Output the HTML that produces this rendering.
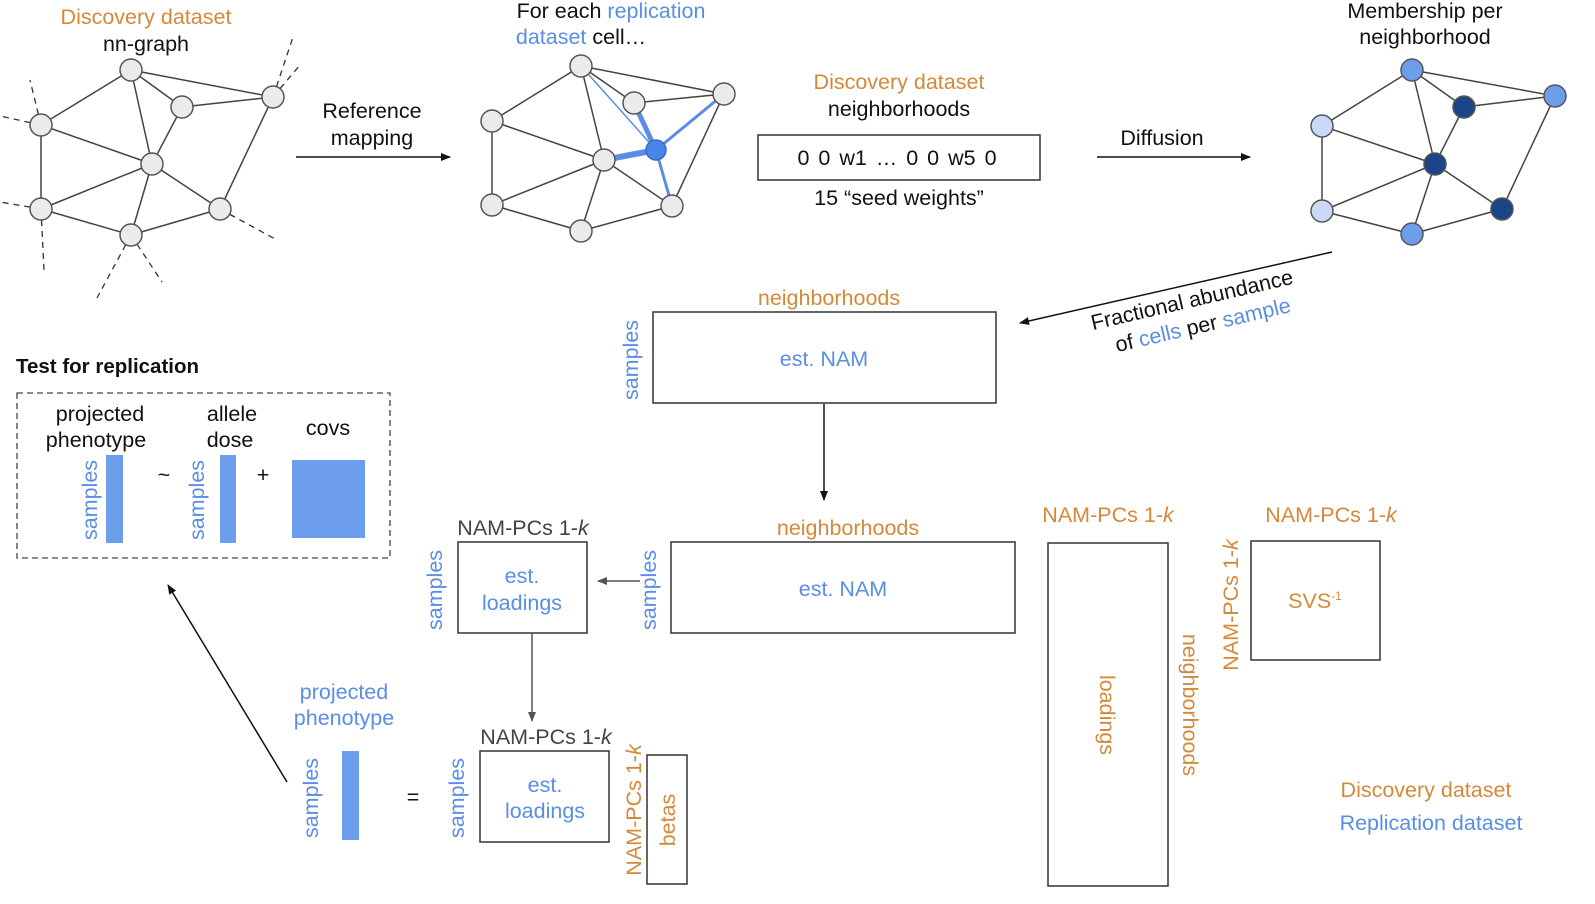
<!DOCTYPE html>
<html><head><meta charset="utf-8"><style>
body{margin:0;background:#fff}
svg{display:block}
text{font-family:"Liberation Sans",Arial,sans-serif;font-size:21.5px;text-anchor:middle;fill:#111}
.o{fill:#d4893a}.b{fill:#5a8ee6}.g{fill:#444}
</style></head><body>
<svg width="1595" height="904" viewBox="0 0 1595 904" xmlns="http://www.w3.org/2000/svg">
<defs><marker id="ar" markerWidth="10" markerHeight="8" refX="9" refY="4" orient="auto" markerUnits="userSpaceOnUse"><path d="M0,0 L10,4 L0,8 z" fill="#111"/></marker>
<marker id="ag" markerWidth="10" markerHeight="8" refX="9" refY="4" orient="auto" markerUnits="userSpaceOnUse"><path d="M0,0 L10,4 L0,8 z" fill="#555"/></marker></defs>

<!-- graph 1 -->
<g stroke="#333" stroke-width="1.3" stroke-dasharray="6,5">
<line x1="273" y1="97" x2="293" y2="37"/><line x1="273" y1="97" x2="300" y2="65"/>
<line x1="41" y1="125" x2="30" y2="80"/><line x1="41" y1="125" x2="0" y2="116"/>
<line x1="41" y1="209" x2="0" y2="202"/><line x1="41" y1="209" x2="44" y2="270"/>
<line x1="131" y1="235" x2="97" y2="298"/><line x1="131" y1="235" x2="162" y2="282"/>
<line x1="220" y1="209" x2="277" y2="240"/></g>
<g stroke="#444" stroke-width="1.5">
<line x1="131" y1="70" x2="273" y2="97"/><line x1="131" y1="70" x2="182" y2="107"/><line x1="131" y1="70" x2="41" y2="125"/><line x1="131" y1="70" x2="152" y2="164"/>
<line x1="182" y1="107" x2="273" y2="97"/><line x1="182" y1="107" x2="152" y2="164"/><line x1="41" y1="125" x2="152" y2="164"/><line x1="41" y1="125" x2="41" y2="209"/>
<line x1="41" y1="209" x2="152" y2="164"/><line x1="41" y1="209" x2="131" y2="235"/><line x1="131" y1="235" x2="152" y2="164"/><line x1="131" y1="235" x2="220" y2="209"/>
<line x1="152" y1="164" x2="220" y2="209"/><line x1="220" y1="209" x2="273" y2="97"/></g>
<g fill="#ebebeb" stroke="#555" stroke-width="1.5">
<circle cx="131" cy="70" r="11"/><circle cx="182" cy="107" r="11"/><circle cx="273" cy="97" r="11"/><circle cx="41" cy="125" r="11"/><circle cx="152" cy="164" r="11"/><circle cx="41" cy="209" r="11"/><circle cx="220" cy="209" r="11"/><circle cx="131" cy="235" r="11"/></g>
<text x="146" y="24" class="o">Discovery dataset</text><text x="146" y="51">nn-graph</text>

<!-- graph 2 -->
<g stroke="#444" stroke-width="1.5">
<line x1="581" y1="66" x2="724" y2="94"/><line x1="581" y1="66" x2="634" y2="103"/><line x1="581" y1="66" x2="492" y2="121"/><line x1="581" y1="66" x2="604" y2="160"/>
<line x1="634" y1="103" x2="724" y2="94"/><line x1="492" y1="121" x2="604" y2="160"/><line x1="492" y1="121" x2="492" y2="205"/>
<line x1="492" y1="205" x2="604" y2="160"/><line x1="492" y1="205" x2="581" y2="231"/><line x1="581" y1="231" x2="604" y2="160"/><line x1="581" y1="231" x2="672" y2="206"/>
<line x1="604" y1="160" x2="672" y2="206"/><line x1="672" y1="206" x2="724" y2="94"/></g>
<g stroke="#5a8ee6">
<line x1="581" y1="66" x2="656" y2="150" stroke-width="1.5"/><line x1="634" y1="103" x2="656" y2="150" stroke-width="5"/><line x1="604" y1="160" x2="656" y2="150" stroke-width="6"/>
<line x1="724" y1="94" x2="656" y2="150" stroke-width="3"/><line x1="672" y1="206" x2="656" y2="150" stroke-width="3"/></g>
<g fill="#ebebeb" stroke="#555" stroke-width="1.5">
<circle cx="581" cy="66" r="11"/><circle cx="634" cy="103" r="11"/><circle cx="724" cy="94" r="11"/><circle cx="492" cy="121" r="11"/><circle cx="604" cy="160" r="11"/><circle cx="492" cy="205" r="11"/><circle cx="672" cy="206" r="11"/><circle cx="581" cy="231" r="11"/></g>
<circle cx="656" cy="150" r="10" fill="#4a86e8" stroke="#3a6bc0" stroke-width="1.5"/>
<text x="611" y="18">For each <tspan class="b">replication</tspan></text><text x="581" y="44"><tspan class="b">dataset</tspan> cell…</text>

<!-- graph 3 -->
<g stroke="#444" stroke-width="1.5">
<line x1="1412" y1="70" x2="1555" y2="96"/><line x1="1412" y1="70" x2="1464" y2="107"/><line x1="1412" y1="70" x2="1322" y2="126"/><line x1="1412" y1="70" x2="1435" y2="164"/>
<line x1="1464" y1="107" x2="1555" y2="96"/><line x1="1464" y1="107" x2="1435" y2="164"/><line x1="1322" y1="126" x2="1435" y2="164"/><line x1="1322" y1="126" x2="1322" y2="211"/>
<line x1="1322" y1="211" x2="1435" y2="164"/><line x1="1322" y1="211" x2="1412" y2="234"/><line x1="1412" y1="234" x2="1435" y2="164"/><line x1="1412" y1="234" x2="1502" y2="209"/>
<line x1="1435" y1="164" x2="1502" y2="209"/><line x1="1502" y1="209" x2="1555" y2="96"/></g>
<g stroke="#555" stroke-width="1.5">
<circle cx="1412" cy="70" r="11" fill="#6d9eeb"/><circle cx="1555" cy="96" r="11" fill="#6d9eeb"/><circle cx="1412" cy="234" r="11" fill="#6d9eeb"/>
<circle cx="1322" cy="126" r="11" fill="#c9daf8"/><circle cx="1322" cy="211" r="11" fill="#c9daf8"/>
<circle cx="1464" cy="107" r="11" fill="#1c4587"/><circle cx="1435" cy="164" r="11" fill="#1c4587"/><circle cx="1502" cy="209" r="11" fill="#1c4587"/></g>
<text x="1425" y="18">Membership per</text><text x="1425" y="44">neighborhood</text>

<!-- top middle -->
<text x="372" y="118">Reference</text><text x="372" y="145">mapping</text>
<line x1="296" y1="157" x2="450" y2="157" stroke="#111" stroke-width="1.5" marker-end="url(#ar)"/>
<text x="899" y="89" class="o">Discovery dataset</text><text x="899" y="116">neighborhoods</text>
<rect x="758" y="135" width="282" height="45" fill="none" stroke="#333" stroke-width="1.5"/>
<text x="897" y="165" style="word-spacing:3px">0  0  w1  …  0  0   w5  0</text>
<text x="899" y="205">15 “seed weights”</text>
<text x="1162" y="145">Diffusion</text>
<line x1="1097" y1="157" x2="1250" y2="157" stroke="#111" stroke-width="1.5" marker-end="url(#ar)"/>

<line x1="1332" y1="252" x2="1020" y2="323" stroke="#111" stroke-width="1.5" marker-end="url(#ar)"/>
<g transform="rotate(-13 1192 300)"><text x="1192" y="307">Fractional abundance</text><text x="1197" y="334">of <tspan class="b">cells</tspan> per <tspan class="b">sample</tspan></text></g>

<!-- NAM 1 -->
<text x="829" y="305" class="o">neighborhoods</text>
<rect x="653" y="312" width="343" height="91" fill="none" stroke="#333" stroke-width="1.5"/>
<text x="824" y="366" class="b">est. NAM</text>
<text transform="translate(638 360) rotate(-90)" class="b">samples</text>
<line x1="824" y1="404" x2="824" y2="500" stroke="#111" stroke-width="1.5" marker-end="url(#ar)"/>

<!-- NAM 2 -->
<text x="848" y="535" class="o">neighborhoods</text>
<rect x="671" y="542" width="344" height="91" fill="none" stroke="#333" stroke-width="1.5"/>
<text x="843" y="596" class="b">est. NAM</text>
<text transform="translate(656 590) rotate(-90)" class="b">samples</text>
<line x1="640" y1="581" x2="598" y2="581" stroke="#555" stroke-width="1.5" marker-end="url(#ag)"/>

<!-- loadings 1 -->
<text x="523" y="535" class="g">NAM-PCs 1-<tspan font-style="italic">k</tspan></text>
<rect x="458" y="542" width="129" height="91" fill="none" stroke="#333" stroke-width="1.5"/>
<text x="522" y="583" class="b">est.</text><text x="522" y="610" class="b">loadings</text>
<text transform="translate(442 590) rotate(-90)" class="b">samples</text>
<line x1="532" y1="633" x2="532" y2="721" stroke="#555" stroke-width="1.5" marker-end="url(#ag)"/>

<!-- loadings 2 -->
<text x="546" y="744" class="g">NAM-PCs 1-<tspan font-style="italic">k</tspan></text>
<rect x="480" y="751" width="129" height="91" fill="none" stroke="#333" stroke-width="1.5"/>
<text x="545" y="792" class="b">est.</text><text x="545" y="818" class="b">loadings</text>
<text transform="translate(464 798) rotate(-90)" class="b">samples</text>
<rect x="647" y="755" width="40" height="129" fill="none" stroke="#333" stroke-width="1.5"/>
<text transform="translate(675 820) rotate(-90)" class="o">betas</text>
<text transform="translate(641 810) rotate(-90)" class="o">NAM-PCs 1-<tspan font-style="italic">k</tspan></text>

<!-- projected phenotype -->
<text x="344" y="699" class="b">projected</text><text x="344" y="725" class="b">phenotype</text>
<rect x="342" y="751" width="17" height="89" fill="#6d9eeb"/>
<text transform="translate(318 798) rotate(-90)" class="b">samples</text>
<text x="413" y="804">=</text>
<line x1="287" y1="782" x2="168" y2="585" stroke="#111" stroke-width="1.5" marker-end="url(#ar)"/>

<!-- test for replication -->
<text x="16" y="373" style="text-anchor:start;font-weight:bold;font-size:20.5px">Test for replication</text>
<rect x="17" y="393" width="373" height="165" fill="none" stroke="#444" stroke-width="1.3" stroke-dasharray="6,4"/>
<text x="100" y="421">projected</text><text x="96" y="447">phenotype</text>
<text x="232" y="421">allele</text><text x="230" y="447">dose</text>
<text x="328" y="435">covs</text>
<rect x="106" y="455" width="17" height="88" fill="#6d9eeb"/>
<rect x="220" y="455" width="16" height="88" fill="#6d9eeb"/>
<rect x="292" y="460" width="73" height="78" fill="#6d9eeb"/>
<text transform="translate(97 500) rotate(-90)" class="b">samples</text>
<text transform="translate(204 500) rotate(-90)" class="b">samples</text>
<text x="164" y="482">~</text><text x="263" y="482">+</text>

<!-- tall loadings -->
<text x="1108" y="522" class="o">NAM-PCs 1-<tspan font-style="italic">k</tspan></text>
<rect x="1048" y="543" width="120" height="343" fill="none" stroke="#333" stroke-width="1.5"/>
<text transform="translate(1100 715) rotate(90)" class="o">loadings</text>
<text transform="translate(1183 705) rotate(90)" class="o">neighborhoods</text>

<!-- SVS -->
<text x="1331" y="522" class="o">NAM-PCs 1-<tspan font-style="italic">k</tspan></text>
<rect x="1251" y="541" width="129" height="119" fill="none" stroke="#333" stroke-width="1.5"/>
<text x="1315" y="608" class="o">SVS<tspan font-size="12" dy="-8">-1</tspan></text>
<text transform="translate(1238 605) rotate(-90)" class="o">NAM-PCs 1-<tspan font-style="italic">k</tspan></text>

<text x="1426" y="797" class="o">Discovery dataset</text>
<text x="1431" y="830" class="b">Replication dataset</text>
</svg>
</body></html>
